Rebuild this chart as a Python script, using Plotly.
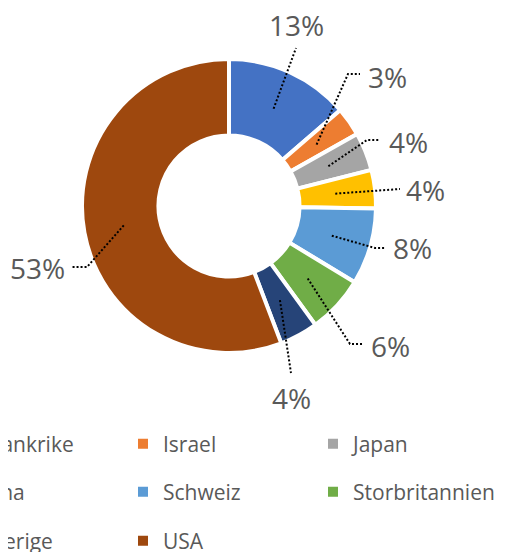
import math
import plotly.graph_objects as go

# ---- data ----
categories = ["Frankrike", "Israel", "Japan", "Kina", "Schweiz",
              "Storbritannien", "Sverige", "USA"]
values = [13, 3, 4, 4, 8, 6, 4, 53]
label_texts = [f"{v}%" for v in values]

# ---- style ----
colors = ["#4472C4", "#ED7D31", "#A5A5A5", "#FFC000", "#5B9BD5",
          "#70AD47", "#264478", "#9E480E"]
W, H = 507, 552
OFF = 8                            # page body margin compensation
CX, CY, R = 229, 206, 147          # donut centre / radius in px (screen)
HOLE = 0.48
TEXT_COLOR = "#595959"
FONT = "Open Sans"

# label placement (px, screen) : text centre, leader elbow, leader end
LABEL_XY = [(296, 25), (387, 77), (408, 142), (425, 190), (412, 248),
            (390, 346), (291, 398), (37, 268)]
LEADER_ELBOW = [None, (348, 74), (367, 140), None, (375, 248),
                (350, 344), None, (87, 267)]
LEADER_END = [(296, 48), (360, 74), (380, 140), (400, 189), (386, 248),
              (363, 344), (291, 373), (72, 267)]
LEADER_R = 107

# legend placement (px, screen): text start per column, row centres
LEG_COL_X = [-18, 163, 353]
LEG_ROW_Y = [444, 492, 541]


def px(x, y):
    return (x - OFF) / W, 1 - (y - OFF) / H


fig = go.Figure()
x0, y0 = px(CX - R, CY + R)
x1, y1 = px(CX + R, CY - R)
fig.add_trace(go.Pie(
    labels=categories, values=values,
    marker=dict(colors=colors, line=dict(color="white", width=4)),
    hole=HOLE, sort=False, direction="clockwise", rotation=0,
    textinfo="none", showlegend=False,
    domain=dict(x=[x0, x1], y=[y0, y1]),
))

# labels + leader lines derived from slice angles
total = sum(values)
cum = 0
annotations = []
shapes = []
for i, v in enumerate(values):
    theta = 2 * math.pi * (cum + v / 2) / total
    cum += v
    sx = CX + LEADER_R * math.sin(theta)
    sy = CY - LEADER_R * math.cos(theta)
    pts = [(sx, sy)]
    if LEADER_ELBOW[i] is not None:
        pts.append(LEADER_ELBOW[i])
    pts.append(LEADER_END[i])
    path = "M " + " L ".join(f"{px(a, b)[0]:.5f},{px(a, b)[1]:.5f}" for a, b in pts)
    shapes.append(dict(type="path", path=path, xref="paper", yref="paper",
                       line=dict(color="black", width=2, dash="2px,2px")))
    lx, ly = px(*LABEL_XY[i])
    annotations.append(dict(x=lx, y=ly, xref="paper", yref="paper",
                            text=label_texts[i], showarrow=False,
                            xanchor="center", yanchor="middle",
                            font=dict(family=FONT, size=28, color=TEXT_COLOR)))

# legend: one entry per legend box so the cropped 3-column grid can be reproduced
legends = {}
for i, (cat, col) in enumerate(zip(categories, colors)):
    key = "legend" if i == 0 else f"legend{i + 1}"
    fig.add_trace(go.Scatter(
        x=[None], y=[None], mode="markers", name=cat, legend=key,
        marker=dict(symbol="square", size=10, color=col),
        showlegend=True, hoverinfo="skip"))
    r, c = divmod(i, 3)
    lx, ly = px(LEG_COL_X[c] - 40, LEG_ROW_Y[r])
    legends[key] = dict(x=lx, y=ly, xanchor="left", yanchor="middle",
                        bgcolor="rgba(0,0,0,0)", borderwidth=0,
                        font=dict(family=FONT, size=21, color=TEXT_COLOR))

fig.update_layout(
    width=W, height=H,
    margin=dict(l=0, r=0, t=0, b=0, autoexpand=False),
    paper_bgcolor="white", plot_bgcolor="white",
    xaxis=dict(visible=False), yaxis=dict(visible=False),
    annotations=annotations, shapes=shapes,
    **legends,
)

fig.write_html("out.html")
